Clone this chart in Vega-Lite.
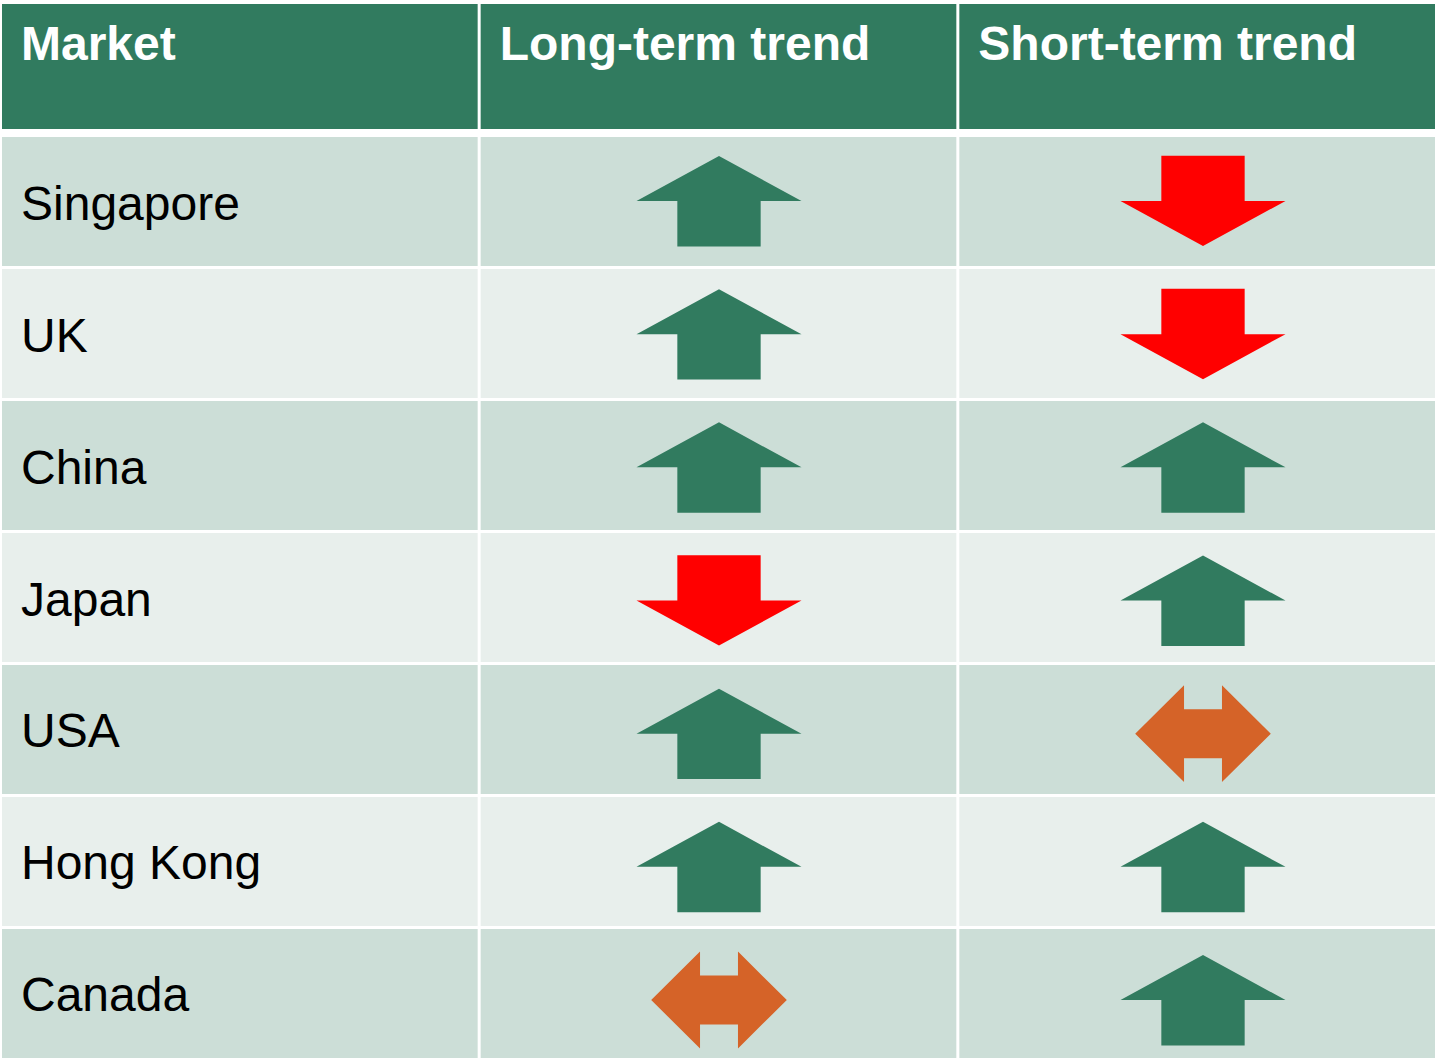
{
  "$schema": "https://vega.github.io/schema/vega-lite/v6.json",
  "width": 1435,
  "height": 1060,
  "padding": 0,
  "autosize": {"type": "none"},
  "background": "#ffffff",
  "config": {"view": {"stroke": null}, "font": "Liberation Sans"},
  "datasets": {
    "columns": [
      {"key": "market", "label": "Market"},
      {"key": "long", "label": "Long-term trend"},
      {"key": "short", "label": "Short-term trend"}
    ],
    "markets": [
      {"market": "Singapore", "long": "up", "short": "down"},
      {"market": "UK", "long": "up", "short": "down"},
      {"market": "China", "long": "up", "short": "up"},
      {"market": "Japan", "long": "down", "short": "up"},
      {"market": "USA", "long": "up", "short": "sideways"},
      {"market": "Hong Kong", "long": "up", "short": "up"},
      {"market": "Canada", "long": "sideways", "short": "up"}
    ]
  },
  "layer": [
    {
      "data": {"name": "columns"},
      "layer": [
        {
          "mark": {"type": "rect", "color": "#317B5F"},
          "encoding": {
            "x": {"field": "key", "type": "nominal", "axis": null,
                  "scale": {"type": "band", "domain": ["market", "long", "short"], "range": [2, 1435], "paddingInner": 0.00627, "paddingOuter": 0}},
            "y": {"datum": "header", "type": "nominal", "axis": null,
                  "scale": {"type": "band", "domain": ["header"], "range": [4, 129], "paddingInner": 0, "paddingOuter": 0}}
          }
        },
        {
          "mark": {"type": "text", "align": "left", "baseline": "alphabetic", "dx": 19, "dy": -7, "fontSize": 48, "fontWeight": "bold", "color": "#ffffff", "font": "Liberation Sans"},
          "encoding": {
            "x": {"field": "key", "type": "nominal", "axis": null, "bandPosition": 0,
                  "scale": {"type": "band", "domain": ["market", "long", "short"], "range": [2, 1435], "paddingInner": 0.00627, "paddingOuter": 0}},
            "y": {"datum": "header", "type": "nominal", "axis": null,
                  "scale": {"type": "band", "domain": ["header"], "range": [4, 129], "paddingInner": 0, "paddingOuter": 0}},
            "text": {"field": "label", "type": "nominal"}
          }
        }
      ]
    },
    {
      "data": {"name": "markets"},
      "transform": [{"fold": ["market", "long", "short"], "as": ["key", "value"]}],
      "layer": [
        {
          "mark": {"type": "rect"},
          "encoding": {
            "x": {"field": "key", "type": "nominal", "axis": null,
                  "scale": {"type": "band", "domain": ["market", "long", "short"], "range": [2, 1435], "paddingInner": 0.00627, "paddingOuter": 0}},
            "y": {"field": "market", "type": "nominal", "axis": null,
                  "scale": {"type": "band", "domain": ["Singapore", "UK", "China", "Japan", "USA", "Hong Kong", "Canada"], "range": [137, 1058], "paddingInner": 0.0227, "paddingOuter": 0}},
            "color": {"field": "market", "type": "nominal", "legend": null,
                      "scale": {"domain": ["Singapore", "UK", "China", "Japan", "USA", "Hong Kong", "Canada"],
                                "range": ["#CCDED7", "#E8EFEC", "#CCDED7", "#E8EFEC", "#CCDED7", "#E8EFEC", "#CCDED7"]}}
          }
        },
        {
          "transform": [{"filter": "datum.key === 'market'"}],
          "mark": {"type": "text", "align": "left", "baseline": "middle", "dx": 19, "dy": 4, "fontSize": 48, "color": "#000000", "font": "Liberation Sans"},
          "encoding": {
            "x": {"field": "key", "type": "nominal", "axis": null, "bandPosition": 0,
                  "scale": {"type": "band", "domain": ["market", "long", "short"], "range": [2, 1435], "paddingInner": 0.00627, "paddingOuter": 0}},
            "y": {"field": "market", "type": "nominal", "axis": null,
                  "scale": {"type": "band", "domain": ["Singapore", "UK", "China", "Japan", "USA", "Hong Kong", "Canada"], "range": [137, 1058], "paddingInner": 0.0227, "paddingOuter": 0}},
            "text": {"field": "value", "type": "nominal"}
          }
        }
      ]
    },
    {
      "data": {"name": "markets"},
      "transform": [{"fold": ["long", "short"], "as": ["key", "trend"]}],
      "mark": {"type": "point", "filled": true, "size": 27225, "opacity": 1, "strokeWidth": 0},
      "encoding": {
        "x": {"field": "key", "type": "nominal", "axis": null,
              "scale": {"type": "point", "domain": ["long", "short"], "range": [719, 1203], "padding": 0}},
        "y": {"field": "market", "type": "nominal", "axis": null,
              "scale": {"type": "point", "domain": ["Singapore", "UK", "China", "Japan", "USA", "Hong Kong", "Canada"], "range": [201, 1000], "padding": 0}},
        "shape": {"field": "trend", "type": "nominal", "legend": null,
                  "scale": {"domain": ["up", "down", "sideways"],
                            "range": ["M0,-0.545L1,0L0.505,0L0.505,0.55L-0.505,0.55L-0.505,0L-1,0Z",
                                      "M0,0.545L1,0L0.505,0L0.505,-0.55L-0.505,-0.55L-0.505,0L-1,0Z",
                                      "M-0.822,0L-0.23,-0.587L-0.23,-0.297L0.23,-0.297L0.23,-0.587L0.822,0L0.23,0.587L0.23,0.297L-0.23,0.297L-0.23,0.587Z"]}},
        "color": {"field": "trend", "type": "nominal", "legend": null,
                  "scale": {"domain": ["up", "down", "sideways"], "range": ["#317B5F", "#FF0000", "#D56328"]}}
      }
    }
  ],
  "resolve": {"scale": {"x": "independent", "y": "independent", "color": "independent", "shape": "independent"}}
}
